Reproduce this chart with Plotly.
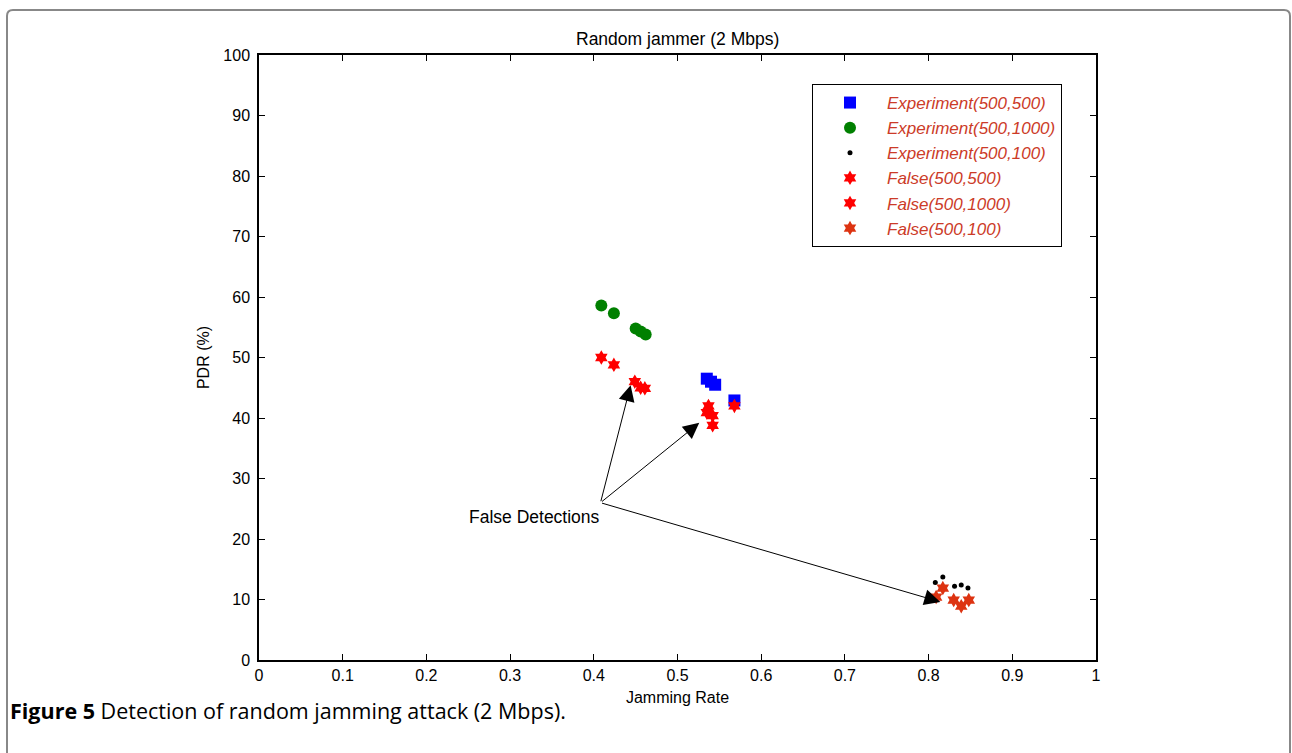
import plotly.graph_objects as go

# ---- data ----
exp_500_500_x = [0.535, 0.540, 0.545, 0.568]
exp_500_500_y = [46.5, 46.0, 45.5, 42.9]

exp_500_1000_x = [0.409, 0.424, 0.450, 0.456, 0.462]
exp_500_1000_y = [58.6, 57.3, 54.8, 54.3, 53.8]

exp_500_100_x = [0.808, 0.817, 0.831, 0.839, 0.847]
exp_500_100_y = [12.8, 13.7, 12.2, 12.4, 11.9]

false_500_500_x = [0.537, 0.535, 0.542, 0.542, 0.568]
false_500_500_y = [42.0, 40.9, 40.4, 38.8, 42.0]

false_500_1000_x = [0.409, 0.424, 0.449, 0.456, 0.461]
false_500_1000_y = [50.0, 48.8, 46.0, 45.0, 44.9]

false_500_100_x = [0.809, 0.817, 0.830, 0.839, 0.848]
false_500_100_y = [10.4, 11.9, 9.9, 8.9, 9.9]

x_ticks = [0, 0.1, 0.2, 0.3, 0.4, 0.5, 0.6, 0.7, 0.8, 0.9, 1]
x_tick_labels = ["0", "0.1", "0.2", "0.3", "0.4", "0.5", "0.6", "0.7", "0.8", "0.9", "1"]
y_ticks = [0, 10, 20, 30, 40, 50, 60, 70, 80, 90, 100]

arrow_tail = (0.408, 26.0)
arrow_heads_x = [0.444, 0.526, 0.814]
arrow_heads_y = [45.4, 39.2, 9.6]

# ---- figure ----
W, H = 1292, 753
L, R, T, B = 259, 196, 55, 93
pw, ph = W - L - R, H - T - B

def px2paper_x(px):
    return (px - L) / pw

def px2paper_y(py):
    return (H - B - py) / ph

HELV = "Liberation Sans, Arial, Helvetica"

fig = go.Figure()

fig.add_trace(go.Scatter(x=exp_500_500_x, y=exp_500_500_y, mode="markers",
                         name="Experiment(500,500)", legendgroup="a",
                         marker=dict(symbol="square", size=12, color="#0000ff")))
fig.add_trace(go.Scatter(x=exp_500_1000_x, y=exp_500_1000_y, mode="markers",
                         name="Experiment(500,1000)", legendgroup="b",
                         marker=dict(symbol="circle", size=12, color="#008000")))
fig.add_trace(go.Scatter(x=exp_500_100_x, y=exp_500_100_y, mode="markers",
                         name="Experiment(500,100)", legendgroup="c",
                         marker=dict(symbol="circle", size=5, color="#000000")))
fig.add_trace(go.Scatter(x=false_500_500_x, y=false_500_500_y, mode="markers",
                         name="False(500,500)", legendgroup="d",
                         marker=dict(symbol="hexagram", size=11, color="#ff0000")))
fig.add_trace(go.Scatter(x=false_500_1000_x, y=false_500_1000_y, mode="markers",
                         name="False(500,1000)", legendgroup="e",
                         marker=dict(symbol="hexagram", size=11, color="#ff0000")))
fig.add_trace(go.Scatter(x=false_500_100_x, y=false_500_100_y, mode="markers",
                         name="False(500,100)", legendgroup="f",
                         marker=dict(symbol="hexagram", size=11, color="#dd3311")))

annotations = []
for hx, hy in zip(arrow_heads_x, arrow_heads_y):
    annotations.append(dict(x=hx, y=hy, xref="x", yref="y",
                            ax=arrow_tail[0], ay=arrow_tail[1], axref="x", ayref="y",
                            text="", showarrow=True, arrowhead=2, arrowsize=3.2,
                            arrowwidth=1, arrowcolor="#000000"))
annotations.append(dict(x=0.3295, y=23.7, xref="x", yref="y", text="False Detections",
                        showarrow=False, font=dict(family=HELV, size=17.5, color="#000")))
annotations.append(dict(x=0.5, y=px2paper_y(39), xref="paper", yref="paper",
                        text="Random jammer (2 Mbps)", showarrow=False,
                        xanchor="center", yanchor="middle",
                        font=dict(family=HELV, size=17.5, color="#000")))
annotations.append(dict(x=px2paper_x(8), y=px2paper_y(710), xref="paper", yref="paper",
                        text="<b>Figure 5</b> Detection of random jamming attack (2 Mbps).",
                        showarrow=False, xanchor="left", yanchor="middle",
                        font=dict(family="Open Sans, Noto Sans", size=21.5, color="#000")))

# rounded frame
x0, x1 = px2paper_x(7), px2paper_x(1290)
y0, y1 = px2paper_y(790), px2paper_y(10)
rx, ry = 6 / pw, 6 / ph
frame_path = (f"M {x0},{y0} L {x0},{y1-ry} Q {x0},{y1} {x0+rx},{y1} "
              f"L {x1-rx},{y1} Q {x1},{y1} {x1},{y1-ry} L {x1},{y0}")

fig.update_layout(
    width=W, height=H,
    margin=dict(l=L, r=R, t=T, b=B),
    paper_bgcolor="white", plot_bgcolor="white",
    font=dict(family=HELV, size=16, color="#000"),
    showlegend=True,
    legend=dict(x=px2paper_x(812), y=px2paper_y(84), xanchor="left", yanchor="top",
                bgcolor="white", bordercolor="#000", borderwidth=1,
                font=dict(family=HELV, size=17, color="#cc3b28", style="italic"),
                itemwidth=64, tracegroupgap=0),
    annotations=annotations,
    shapes=[dict(type="path", path=frame_path, xref="paper", yref="paper",
                 line=dict(color="#888888", width=2), layer="above")],
)
fig.update_xaxes(range=[0, 1], tickvals=x_ticks, ticktext=x_tick_labels,
                 ticks="inside", ticklen=6, tickcolor="#000", showgrid=False, zeroline=False,
                 showline=True, linecolor="#000", linewidth=1.5, mirror="ticks",
                 title=dict(text="Jamming Rate", standoff=9, font=dict(size=16)),
                 tickfont=dict(size=16))
fig.update_yaxes(range=[0, 100], tickvals=y_ticks,
                 ticks="inside", ticklen=6, tickcolor="#000", showgrid=False, zeroline=False,
                 showline=True, linecolor="#000", linewidth=1.5, mirror="ticks",
                 ticklabelstandoff=4,
                 title=dict(text="PDR (%)", standoff=10, font=dict(size=16)),
                 tickfont=dict(size=16))

fig.write_html("out.html", config={"displayModeBar": False},
               post_script="document.body.style.margin='0';document.body.style.overflow='hidden';")
